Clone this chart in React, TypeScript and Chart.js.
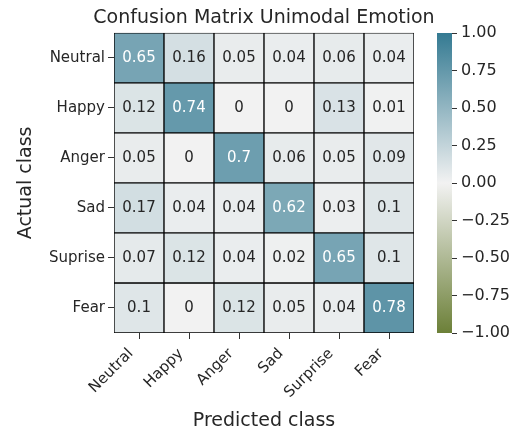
import React, { useEffect, useRef } from 'react';
import { Chart, registerables } from 'chart.js';

Chart.register(...registerables);

const predictedLabels = ['Neutral', 'Happy', 'Anger', 'Sad', 'Surprise', 'Fear'];
const actualLabels = ['Neutral', 'Happy', 'Anger', 'Sad', 'Suprise', 'Fear'];

const rowNeutral = [0.65, 0.16, 0.05, 0.04, 0.06, 0.04];
const rowHappy = [0.12, 0.74, 0, 0, 0.13, 0.01];
const rowAnger = [0.05, 0, 0.7, 0.06, 0.05, 0.09];
const rowSad = [0.17, 0.04, 0.04, 0.62, 0.03, 0.1];
const rowSuprise = [0.07, 0.12, 0.04, 0.02, 0.65, 0.1];
const rowFear = [0.1, 0, 0.12, 0.05, 0.04, 0.78];
const matrix = [rowNeutral, rowHappy, rowAnger, rowSad, rowSuprise, rowFear];

const colorbarTicks = [-1, -0.75, -0.5, -0.25, 0, 0.25, 0.5, 0.75, 1];

const TITLE = 'Confusion Matrix Unimodal Emotion';
const FONT = 'DejaVu Sans';
const TEXT = '#262626';

const NEG = [108, 128, 56];
const MID = [242, 242, 242];
const POS = [52, 122, 146];

function mixRGB(v: number): number[] {
  const t = Math.max(-1, Math.min(1, v));
  const end = t >= 0 ? POS : NEG;
  const f = Math.abs(t);
  return MID.map((m, k) => Math.round(m + (end[k] - m) * f));
}
function cmap(v: number): string {
  const [r, g, b] = mixRGB(v);
  return `rgb(${r},${g},${b})`;
}
function textColor(v: number): string {
  const [r, g, b] = mixRGB(v).map((c) => {
    const s = c / 255;
    return s <= 0.03928 ? s / 12.92 : Math.pow((s + 0.055) / 1.055, 2.4);
  });
  const lum = 0.2126 * r + 0.7152 * g + 0.0722 * b;
  return lum < 0.408 ? '#ffffff' : TEXT;
}
function fmtTick(v: number): string {
  const s = Math.abs(v).toFixed(2);
  return v < 0 ? '\u2212' + s : s;
}

const annotate = {
  id: 'annotate',
  afterDatasetsDraw(chart: any) {
    const { ctx, scales } = chart;
    const x = scales.x;
    const y = scales.y;
    ctx.save();
    ctx.font = `15px "${FONT}"`;
    ctx.textAlign = 'center';
    ctx.textBaseline = 'middle';
    matrix.forEach((row, i) => {
      row.forEach((v, j) => {
        ctx.fillStyle = textColor(v);
        ctx.fillText(String(v), x.getPixelForValue(j), y.getPixelForValue(i + 0.5));
      });
    });
    ctx.restore();
  },
};

export default function App() {
  const mainRef = useRef<HTMLCanvasElement>(null);
  const cbRef = useRef<HTMLCanvasElement>(null);

  useEffect(() => {
    Chart.defaults.font.family = FONT;
    const main = new Chart(mainRef.current as HTMLCanvasElement, {
      type: 'bar',
      data: {
        labels: predictedLabels,
        datasets: matrix.map((row, i) => ({
          label: actualLabels[i],
          data: row.map(() => [i, i + 1]),
          backgroundColor: row.map(cmap),
          borderColor: '#000000',
          borderWidth: 1,
          borderSkipped: false,
          barPercentage: 1,
          categoryPercentage: 1,
          grouped: false,
        })),
      } as any,
      options: {
        animation: false,
        responsive: false,
        devicePixelRatio: 1,
        layout: { padding: { left: 15, right: 0, top: 3, bottom: 0 } },
        plugins: {
          legend: { display: false },
          tooltip: { enabled: false },
          title: {
            display: true,
            text: TITLE,
            fullSize: true,
            color: TEXT,
            font: { family: FONT, size: 19, weight: 'normal' },
            padding: { top: 4, bottom: 3 },
          },
        },
        scales: {
          x: {
            type: 'category',
            offset: true,
            border: { display: false },
            grid: {
              display: true,
              drawOnChartArea: false,
              drawTicks: true,
              tickLength: 6,
              tickColor: '#333333',
              offset: false,
            },
            ticks: {
              color: TEXT,
              font: { family: FONT, size: 15 },
              minRotation: 45,
              maxRotation: 45,
              padding: 6,
              labelOffset: -8,
              autoSkip: false,
            },
            title: {
              display: true,
              text: 'Predicted class',
              color: TEXT,
              font: { family: FONT, size: 19 },
              padding: { top: 0, bottom: 0 },
            },
            afterFit: (s: any) => {
              s.height = 99;
            },
          },
          y: {
            type: 'linear',
            min: 0,
            max: 6,
            reverse: true,
            border: { display: false },
            afterBuildTicks: (s: any) => {
              s.ticks = actualLabels.map((_, i) => ({ value: i + 0.5 }));
            },
            grid: {
              drawOnChartArea: false,
              drawTicks: true,
              tickLength: 6,
              tickColor: '#333333',
            },
            ticks: {
              color: TEXT,
              font: { family: FONT, size: 15 },
              padding: 3,
              callback: (_v: any, idx: number) => actualLabels[idx],
            },
            title: {
              display: true,
              text: 'Actual class',
              color: TEXT,
              font: { family: FONT, size: 19 },
              padding: { top: 0, bottom: 0 },
            },
            afterFit: (s: any) => {
              s.width = 99;
            },
          },
          space: {
            type: 'linear',
            position: 'right',
            display: true,
            border: { display: false },
            grid: { display: false },
            ticks: { display: false },
            afterFit: (s: any) => {
              s.width = 99;
            },
          },
        },
      } as any,
      plugins: [annotate],
    });

    const cb = new Chart(cbRef.current as HTMLCanvasElement, {
      type: 'bar',
      data: {
        labels: ['colorbar'],
        datasets: [
          {
            data: [[-1, 1]],
            borderWidth: 0,
            barPercentage: 1,
            categoryPercentage: 1,
            backgroundColor: (c: any) => {
              const a = c.chart.chartArea;
              if (!a) return cmap(1);
              const g = c.chart.ctx.createLinearGradient(0, a.bottom, 0, a.top);
              g.addColorStop(0, cmap(-1));
              g.addColorStop(0.5, cmap(0));
              g.addColorStop(1, cmap(1));
              return g;
            },
          },
        ],
      } as any,
      options: {
        animation: false,
        responsive: false,
        devicePixelRatio: 1,
        layout: { padding: { left: 437, right: 0, top: 33, bottom: 99 } },
        plugins: { legend: { display: false }, tooltip: { enabled: false }, title: { display: false } },
        scales: {
          x: { display: false },
          y: {
            position: 'right',
            min: -1,
            max: 1,
            border: { display: false },
            afterBuildTicks: (s: any) => {
              s.ticks = colorbarTicks.map((v) => ({ value: v }));
            },
            grid: { drawOnChartArea: false, drawTicks: true, tickLength: 5, tickColor: '#333333' },
            ticks: {
              color: TEXT,
              font: { family: FONT, size: 16 },
              padding: 4,
              callback: (v: any) => fmtTick(Number(v)),
            },
            afterFit: (s: any) => {
              s.width = 61;
            },
          },
        },
      } as any,
    });

    return () => {
      main.destroy();
      cb.destroy();
    };
  }, []);

  return (
    <div style={{ position: 'fixed', left: 0, top: 0, width: 513, height: 432, background: '#ffffff' }}>
      <canvas ref={mainRef} width={513} height={432} style={{ position: 'absolute', left: 0, top: 0 }} />
      <canvas ref={cbRef} width={513} height={432} style={{ position: 'absolute', left: 0, top: 0 }} />
    </div>
  );
}
